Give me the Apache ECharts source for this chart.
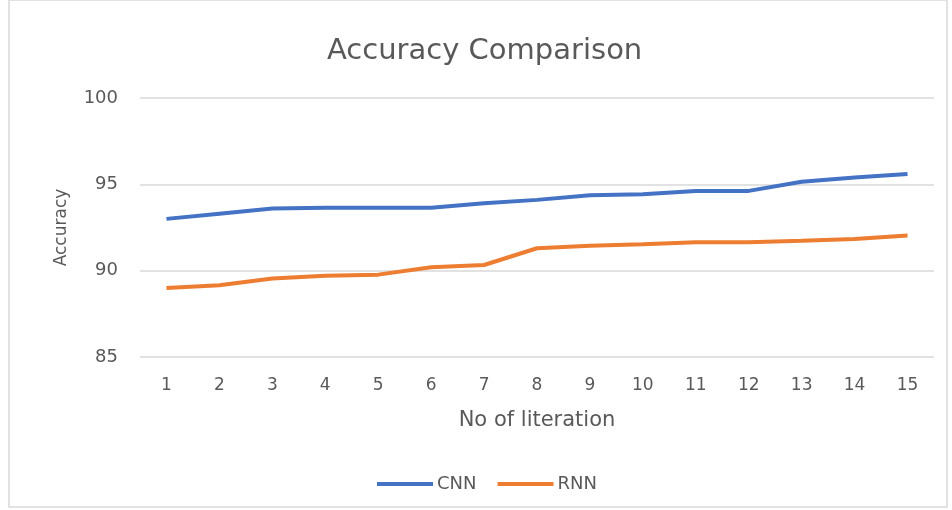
<!DOCTYPE html>
<html><head><meta charset="utf-8">
<script src="https://cdn.jsdelivr.net/npm/echarts@6/dist/echarts.min.js"></script>
<style>html,body{margin:0;padding:0;background:#fff}#c{width:952px;height:510px}</style>
</head><body><div id="c"></div>
<script>
const categories = ['1','2','3','4','5','6','7','8','9','10','11','12','13','14','15'];
const cnnValues = [93.0, 93.3, 93.6, 93.65, 93.65, 93.65, 93.9, 94.1, 94.37, 94.43, 94.62, 94.62, 95.15, 95.4, 95.6];
const rnnValues = [89.0, 89.15, 89.55, 89.7, 89.77, 90.2, 90.33, 91.3, 91.45, 91.53, 91.65, 91.65, 91.73, 91.84, 92.03];
const yTicks = [85, 90, 95, 100];

const chart = echarts.init(document.getElementById('c'));
const font = '"DejaVu Sans", "Open Sans", sans-serif';
const grey = '#595959';
chart.setOption({
  animation: false,
  textStyle: {fontFamily: font},
  graphic: [{type:'rect', shape:{x:9, y:0, width:938, height:507}, style:{fill:'none', stroke:'#d9d9d9', lineWidth:1.5}, silent:true}],
  title: {text: 'Accuracy Comparison', left: 322, top: 32,
    textStyle: {fontFamily: font, fontSize: 29, fontWeight: 'normal', color: grey}},
  grid: {left: 140, right: 18, top: 98, bottom: 153},
  legend: {top: 470, left: 372, icon: 'rect', itemWidth: 56, itemHeight: 4, itemGap: 21,
    textStyle: {fontFamily: font, fontSize: 18, color: grey, padding:[0,0,0,-1]},
    data: ['CNN', 'RNN']},
  xAxis: {type: 'category', data: categories, boundaryGap: true,
    name: 'No of literation', nameLocation: 'middle', nameGap: 53,
    nameTextStyle: {fontFamily: font, fontSize: 21, color: grey},
    axisLine: {show: false}, axisTick: {show: false},
    axisLabel: {fontFamily: font, fontSize: 17, color: grey, margin: 20}},
  yAxis: {type: 'value', min: 85, max: 100, interval: 5,
    name: 'Accuracy', nameLocation: 'middle', nameGap: 70,
    nameTextStyle: {fontFamily: font, fontSize: 17, color: grey},
    axisLine: {show: false}, axisTick: {show: false},
    axisLabel: {fontFamily: font, fontSize: 18, color: grey, margin: 22,
      formatter: v => yTicks.includes(v) ? String(v) : ''},
    splitLine: {lineStyle: {color: '#d9d9d9', width: 1.5}}},
  series: [
    {name: 'CNN', type: 'line', data: cnnValues, showSymbol: false, symbol: 'none',
      lineStyle: {color: '#4472C4', width: 4}, itemStyle: {color: '#4472C4'}},
    {name: 'RNN', type: 'line', data: rnnValues, showSymbol: false, symbol: 'none',
      lineStyle: {color: '#ED7D31', width: 4}, itemStyle: {color: '#ED7D31'}}
  ]
});
</script></body></html>
